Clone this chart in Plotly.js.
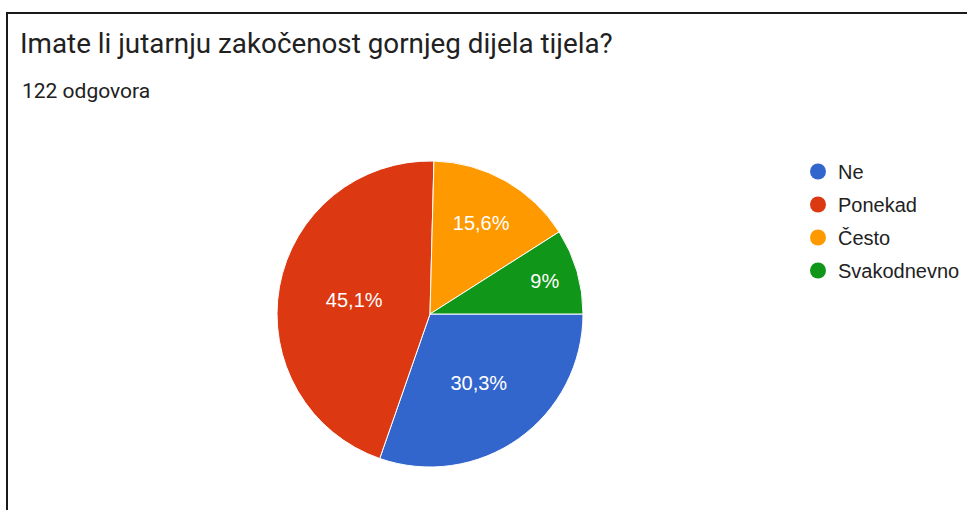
<!DOCTYPE html>
<html>
<head>
<meta charset="utf-8">
<script src="https://cdn.plot.ly/plotly-3.0.1.min.js"></script>
<style>
html,body{margin:0;padding:0;background:#fff;}
#wrap{position:relative;width:967px;height:510px;overflow:hidden;}
#chart{position:absolute;left:0;top:0;width:967px;height:510px;}
#frame{position:absolute;left:6px;top:12px;width:970px;height:510px;border-top:2px solid #1a1a1a;border-left:2px solid #1a1a1a;pointer-events:none;}
</style>
</head>
<body>
<div id="wrap"><div id="chart"></div><div id="frame"></div></div>
<script>
const titleText = "Imate li jutarnju zakočenost gornjeg dijela tijela?";
const subtitleText = "122 odgovora";
const labels = ["Ne", "Ponekad", "Često", "Svakodnevno"];
const counts = [37, 55, 19, 11];
const colors = ["#3366cc", "#dc3912", "#ff9900", "#109618"];

const W = 967, H = 510;
const cx = 430, cy = 314, r = 153;

const traces = [{
  type: "pie",
  labels: labels,
  values: counts,
  sort: false,
  direction: "clockwise",
  rotation: 90,
  marker: {colors: colors, line: {color: "#ffffff", width: 1}},
  textinfo: "percent",
  texttemplate: "%{percent:.1~%}",
  textposition: "inside",
  insidetextorientation: "horizontal",
  textfont: {family: "Liberation Sans, Arial, sans-serif", size: 20, color: "#ffffff"},
  hoverinfo: "none",
  showlegend: false,
  domain: {x: [(cx - r) / W, (cx + r) / W], y: [(H - cy - r) / H, (H - cy + r) / H]}
}];
labels.forEach((l, i) => {
  traces.push({
    type: "scatter", mode: "markers", x: [null], y: [null], name: l,
    legendgroup: "g" + i,
    marker: {color: colors[i], size: 16, symbol: "circle"},
    showlegend: true, hoverinfo: "none"
  });
});

const layout = {
  width: W, height: H,
  margin: {l: 0, r: 0, t: 0, b: 0},
  paper_bgcolor: "#ffffff", plot_bgcolor: "rgba(0,0,0,0)",
  separators: ",.",
  xaxis: {visible: false}, yaxis: {visible: false},
  title: {
    text: titleText,
    font: {family: "Roboto, sans-serif", size: 27.8, color: "#212121"},
    x: 20 / W, xanchor: "left", xref: "paper",
    y: 1 - 43 / H, yanchor: "middle", yref: "paper"
  },
  annotations: [{
    text: subtitleText, xref: "paper", yref: "paper",
    x: 20 / W, xanchor: "left", y: 1 - 91 / H, yanchor: "middle",
    showarrow: false,
    font: {family: "Roboto, sans-serif", size: 21, color: "#212121"}
  }],
  legend: {
    x: 798 / W, xanchor: "left", y: 1 - 152 / H, yanchor: "top",
    font: {family: "Liberation Sans, Arial, sans-serif", size: 20, color: "#222222"},
    tracegroupgap: 4, bgcolor: "rgba(0,0,0,0)"
  },
  showlegend: true
};

Plotly.newPlot("chart", traces, layout, {displayModeBar: false, staticPlot: true});
</script>
</body>
</html>
